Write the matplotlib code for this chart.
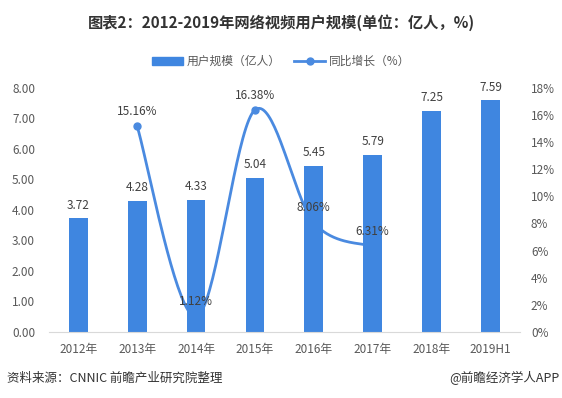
"""
Online video user scale 2012-2019H1, bar + smoothed growth line
"""

import numpy as np
import matplotlib.pyplot as plt
from matplotlib.lines import Line2D
from matplotlib.patches import Patch

plt.rcParams["font.family"] = ["Noto Sans CJK SC", "DejaVu Sans"]

years = ["2012年", "2013年", "2014年", "2015年", "2016年", "2017年", "2018年", "2019H1"]
users = [3.72, 4.28, 4.33, 5.04, 5.45, 5.79, 7.25, 7.59]
growth_idx = [1, 2, 3, 4, 5]
growth = [15.16, 1.12, 16.38, 8.06, 6.31]

BLUE = "#3f86e0"
LINE_BLUE = "#4a8ae0"
TXT = "#404040"
TICK = "#595959"


def smooth(xs, ys, n=40):
    # catmull-rom style bezier, like office smoothed lines
    xs = np.asarray(xs, float)
    ys = np.asarray(ys, float)
    px, py = [], []
    for i in range(len(xs) - 1):
        x0, y0 = (xs[i - 1], ys[i - 1]) if i > 0 else (xs[i], ys[i])
        x3, y3 = (xs[i + 2], ys[i + 2]) if i + 2 < len(xs) else (xs[i + 1], ys[i + 1])
        x1, y1, x2, y2 = xs[i], ys[i], xs[i + 1], ys[i + 1]
        c1 = (x1 + (x2 - x0) / 6, y1 + (y2 - y0) / 6)
        c2 = (x2 - (x3 - x1) / 6, y2 - (y3 - y1) / 6)
        t = np.linspace(0, 1, n)
        bx = (1 - t) ** 3 * x1 + 3 * (1 - t) ** 2 * t * c1[0] + 3 * (1 - t) * t ** 2 * c2[0] + t ** 3 * x2
        by = (1 - t) ** 3 * y1 + 3 * (1 - t) ** 2 * t * c1[1] + 3 * (1 - t) * t ** 2 * c2[1] + t ** 3 * y2
        px.extend(bx)
        py.extend(by)
    return np.array(px), np.array(py)


fig = plt.figure(figsize=(5.62, 3.98), dpi=100)
ax = fig.add_axes([0.087, 0.166, 0.838, 0.613])
ax2 = ax.twinx()

x = np.arange(len(years))

# line behind the bars
ax.set_zorder(2)
ax.patch.set_visible(False)
sx, sy = smooth(growth_idx, growth)
ax2.plot(sx, sy, color=LINE_BLUE, lw=2, zorder=1)
ax2.plot(growth_idx, growth, "o", color=LINE_BLUE, ms=5, zorder=1)

ax.bar(x, users, width=0.32, color=BLUE, zorder=2)
for i, v in zip(x, users):
    ax.annotate(f"{v:.2f}", (i, v), xytext=(0, 5), textcoords="offset points",
                ha="center", va="bottom", fontsize=8.5, color=TXT)

# growth labels sit on top of the bars
for i, g in zip(growth_idx, growth):
    ax.annotate(f"{g:.2f}%", (i, g), xycoords=ax2.transData, xytext=(0, 6), textcoords="offset points",
                ha="center", va="bottom", fontsize=8.5, color=TXT, zorder=5)

ax.set_ylim(0, 8)
ax.set_yticks(np.arange(0, 9, 1))
ax.set_yticklabels([f"{v:.2f}" for v in range(9)])
ax2.set_ylim(0, 18)
ax2.set_yticks(np.arange(0, 19, 2))
ax2.set_yticklabels([f"{v}%" for v in range(0, 19, 2)])
ax.set_xlim(-0.5, len(years) - 0.5)
ax.set_xticks(x)
ax.set_xticklabels(years)

for a in (ax, ax2):
    for s in a.spines.values():
        s.set_visible(False)
    a.tick_params(length=0, labelsize=8.5, labelcolor=TICK)
ax.spines["bottom"].set_visible(True)
ax.spines["bottom"].set_color("#d9d9d9")
ax.tick_params(axis="x", pad=8)
ax.tick_params(axis="y", pad=10)
ax2.tick_params(axis="y", pad=8)

handles = [Patch(color=BLUE), Line2D([], [], color=LINE_BLUE, lw=2, marker="o", ms=5)]
fig.legend(handles, ["用户规模（亿人）", "同比增长（%）"], loc="center", bbox_to_anchor=(0.5, 0.845),
           ncol=2, frameon=False, fontsize=8.5, handlelength=2.6, handleheight=0.7,
           columnspacing=1.2, handletextpad=0.3, labelcolor=TICK)

fig.text(0.5, 0.942, "图表2：2012-2019年网络视频用户规模(单位：亿人，%)", ha="center", va="center",
         fontsize=11, fontweight="bold", color="#333333")
fig.text(0.012, 0.05, "资料来源：CNNIC 前瞻产业研究院整理", ha="left", va="center", fontsize=9, color="#333333")
fig.text(0.995, 0.05, "@前瞻经济学人APP", ha="right", va="center", fontsize=9, color="#333333")

fig.savefig("out.png", dpi=100)
